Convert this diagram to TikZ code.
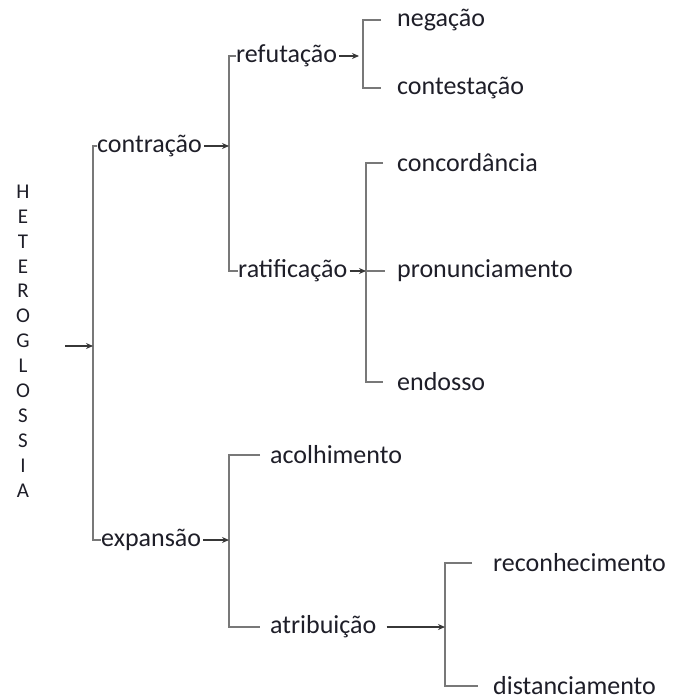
\documentclass[tikz,border=0pt]{standalone}
\usepackage{fontspec}
\setmainfont{Carlito}
\usetikzlibrary{arrows.meta}
\definecolor{linegrey}{RGB}{120,120,120}
\definecolor{arrowgrey}{RGB}{55,55,55}
\definecolor{textdark}{RGB}{30,30,40}

\begin{document}
\begin{tikzpicture}[x=1pt,y=-1pt,
  lbl/.style={anchor=west,inner sep=0pt,text=textdark,font=\fontsize{26}{30}\selectfont},
  bracket/.style={draw=linegrey,line width=1.6pt},
  arr/.style={draw=arrowgrey,line width=1.6pt,-{Stealth[length=7pt,width=6pt]},shorten <=2pt}]
\useasboundingbox (0,0) rectangle (673,700);

% x of the vertical bars
\coordinate (v0) at (93,0);
\coordinate (v1) at (229,0);
\coordinate (v2) at (363,0);
\coordinate (v3) at (366,0);
\coordinate (v4) at (229,0);
\coordinate (v5) at (445,0);

\node[inner sep=0pt,text=textdark,align=center,font=\fontsize{21}{24.9}\selectfont] (hetero) at (23,341)
  {H\\E\\T\\E\\R\\O\\G\\L\\O\\S\\S\\I\\A};
\coordinate (hin) at (65,346);

\node[lbl] (contr) at (97,146) {contração};
\node[lbl] (expan) at (101,540) {expansão};

\node[lbl] (refut) at (236,56) {refutação};
\node[lbl] (ratif) at (238,271) {ratificação};
\node[lbl] (acolh) at (270,455) {acolhimento};
\node[lbl] (atrib) at (270,627) {atribuição};

\node[lbl] (negac) at (397,20) {negação};
\node[lbl] (contes) at (397,88) {contestação};
\node[lbl] (concord) at (397,163) {concordância};
\node[lbl] (pronun) at (397,271) {pronunciamento};
\node[lbl] (endos) at (397,382) {endosso};
\node[lbl] (recon) at (493,563) {reconhecimento};
\node[lbl] (distan) at (493,686) {distanciamento};

% brackets
\draw[bracket] (contr.west) -| (v0 |- expan.west) -- (expan.west);
\draw[bracket] (refut.west) -| (v1 |- ratif.west) -- (ratif.west);
\draw[bracket] ([xshift=-16pt]negac.west) -| (v2 |- contes.west) -- ([xshift=-16pt]contes.west);
\draw[bracket] ([xshift=-14pt]concord.west) -| (v3 |- endos.west) -- ([xshift=-14pt]endos.west);
\draw[bracket] (v3 |- ratif.east) -- ([xshift=-12pt]pronun.west);
\draw[bracket] ([xshift=-10pt]acolh.west) -| (v4 |- atrib.west) -- ([xshift=-10pt]atrib.west);
\draw[bracket] ([xshift=-21pt]recon.west) -| (v5 |- distan.west) -- ([xshift=-15pt]distan.west);

% arrows
\draw[arr,shorten <=0pt] (hin) -- (v0 |- hin);
\draw[arr] (contr.east) -- (v1 |- contr.east);
\draw[arr] (refut.east) -- ([xshift=-4pt]v2 |- refut.east);
\draw[arr] (ratif.east) -- (v3 |- ratif.east);
\draw[arr] (expan.east) -- (v4 |- expan.east);
\draw[arr,shorten <=10pt] (atrib.east) -- (v5 |- atrib.east);
\end{tikzpicture}
\end{document}
